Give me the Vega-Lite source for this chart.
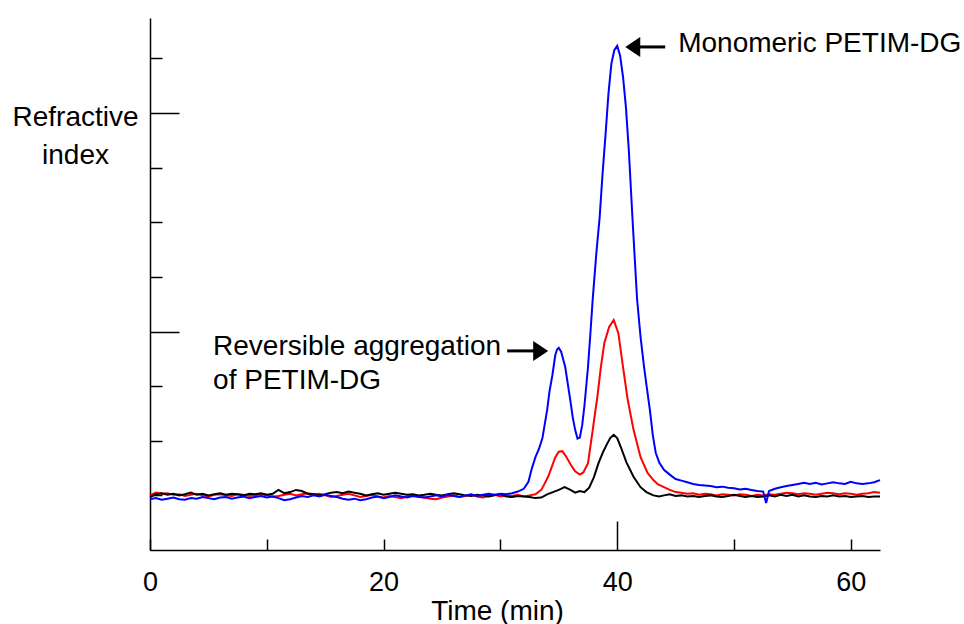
{
  "$schema": "https://vega.github.io/schema/vega-lite/v6.json",
  "width": 730,
  "height": 532,
  "autosize": "none",
  "padding": {"left": 150, "top": 18, "right": 84, "bottom": 74},
  "background": "white",
  "config": {"view": {"stroke": null}, "font": "Liberation Sans", "axis": {"grid": false}},
  "encoding": {
    "x": {
      "field": "t", "type": "quantitative",
      "scale": {"domain": [0, 62.5], "nice": false, "zero": false},
      "axis": {
        "title": "Time (min)",
        "values": [0, 10, 20, 30, 40, 50, 60],
        "labelExpr": "datum.value % 20 === 0 ? datum.label : ''",
        "tickSize": {"condition": {"test": "datum.value === 40", "value": -29}, "value": -11},
        "tickColor": "black", "tickWidth": 1.5,
        "domainColor": "black", "domainWidth": 1.5,
        "labelFont": "Liberation Sans", "labelFontSize": 27, "labelColor": "black",
        "labelPadding": {"condition": {"test": "datum.value === 40", "value": 48}, "value": 30},
        "labelFlush": false, "labelOverlap": false,
        "titleFont": "Liberation Sans", "titleFontSize": 28, "titleFontWeight": "normal", "titleColor": "black",
        "titleX": 347, "titleY": 69, "titleAlign": "center", "titleBaseline": "alphabetic"
      }
    },
    "y": {
      "field": "v", "type": "quantitative",
      "scale": {"domain": [0, 9.74], "nice": false, "zero": false},
      "axis": {
        "title": ["Refractive", "index"],
        "values": [1, 2, 3, 4, 5, 6, 7, 8, 9],
        "labels": false,
        "tickSize": {"condition": {"test": "datum.value % 4 === 0", "value": -29}, "value": -12},
        "tickColor": "black", "tickWidth": 1.5,
        "domainColor": "black", "domainWidth": 1.5,
        "titleFont": "Liberation Sans", "titleFontSize": 28, "titleFontWeight": "normal", "titleColor": "black",
        "titleAngle": 0, "titleX": -75, "titleY": 107, "titleAlign": "center", "titleBaseline": "alphabetic", "titleLineHeight": 38
      }
    }
  },
  "layer": [
    {
      "data": {"values": [
        {"t":0,"v":1.00},{"t":0.5,"v":1.05},{"t":1,"v":1.03},{"t":1.5,"v":1.04},{"t":2,"v":1.01},{"t":2.5,"v":1.02},{"t":3,"v":0.99},{"t":3.5,"v":1.01},{"t":4,"v":1.03},{"t":4.5,"v":1.00},
        {"t":5,"v":0.98},{"t":5.5,"v":1.01},{"t":6,"v":1.02},{"t":6.5,"v":1.00},{"t":7,"v":0.99},{"t":7.5,"v":1.02},{"t":8,"v":1.01},{"t":8.5,"v":0.99},{"t":9,"v":1.00},{"t":9.5,"v":1.02},
        {"t":10,"v":1.00},{"t":10.5,"v":0.98},{"t":11,"v":0.99},{"t":11.5,"v":1.01},{"t":12,"v":1.03},{"t":12.5,"v":1.00},{"t":13,"v":1.02},{"t":13.5,"v":1.04},{"t":14,"v":1.02},{"t":14.5,"v":1.03},
        {"t":15,"v":1.00},{"t":15.5,"v":0.97},{"t":16,"v":0.99},{"t":16.5,"v":1.01},{"t":17,"v":1.03},{"t":17.5,"v":1.00},{"t":18,"v":0.97},{"t":18.5,"v":0.99},{"t":19,"v":1.01},{"t":19.5,"v":0.98},
        {"t":20,"v":0.96},{"t":20.5,"v":0.99},{"t":21,"v":0.97},{"t":21.5,"v":0.95},{"t":22,"v":0.98},{"t":22.5,"v":1.00},{"t":23,"v":0.98},{"t":23.5,"v":0.96},{"t":24,"v":0.94},{"t":24.5,"v":0.93},
        {"t":25,"v":0.96},{"t":25.5,"v":0.98},{"t":26,"v":1.00},{"t":26.5,"v":0.97},{"t":27,"v":0.99},{"t":27.5,"v":1.01},{"t":28,"v":0.98},{"t":28.5,"v":0.96},{"t":29,"v":0.99},{"t":29.5,"v":1.01},
        {"t":30,"v":0.98},{"t":30.5,"v":1.00},{"t":31,"v":0.99},{"t":31.5,"v":1.01},{"t":32,"v":0.98},{"t":32.5,"v":1.00},{"t":33,"v":1.02},{"t":33.5,"v":1.10},{"t":33.8,"v":1.22},{"t":34.1,"v":1.35},
        {"t":34.4,"v":1.52},{"t":34.7,"v":1.70},{"t":35.0,"v":1.80},{"t":35.3,"v":1.81},{"t":35.6,"v":1.72},{"t":36.0,"v":1.57},{"t":36.4,"v":1.44},{"t":36.8,"v":1.38},{"t":37.1,"v":1.42},{"t":37.5,"v":1.59},
        {"t":37.9,"v":2.19},{"t":38.1,"v":2.50},{"t":38.3,"v":2.80},{"t":38.6,"v":3.35},{"t":38.9,"v":3.79},{"t":39.3,"v":4.08},{"t":39.7,"v":4.21},{"t":40.1,"v":3.97},{"t":40.5,"v":3.35},{"t":40.9,"v":2.75},
        {"t":41.4,"v":2.20},{"t":42.0,"v":1.70},{"t":42.6,"v":1.41},{"t":43.1,"v":1.28},{"t":43.5,"v":1.20},{"t":44.0,"v":1.15},{"t":44.5,"v":1.10},{"t":45.0,"v":1.06},{"t":45.5,"v":1.05},{"t":46.0,"v":1.03},
        {"t":46.5,"v":1.04},{"t":47.0,"v":1.01},{"t":47.5,"v":1.03},{"t":48.0,"v":1.02},{"t":48.5,"v":1.00},{"t":49.0,"v":1.02},{"t":49.5,"v":1.01},{"t":50.0,"v":1.00},{"t":50.5,"v":1.02},{"t":51.0,"v":1.01},
        {"t":51.5,"v":0.99},{"t":52.0,"v":1.01},{"t":52.5,"v":1.00},{"t":53.0,"v":1.02},{"t":53.5,"v":1.01},{"t":54.0,"v":1.03},{"t":54.5,"v":1.05},{"t":55.0,"v":1.04},{"t":55.5,"v":1.02},{"t":56.0,"v":1.04},
        {"t":56.5,"v":1.03},{"t":57.0,"v":1.01},{"t":57.5,"v":1.03},{"t":58.0,"v":1.05},{"t":58.5,"v":1.04},{"t":59.0,"v":1.02},{"t":59.5,"v":1.04},{"t":60.0,"v":1.03},{"t":60.5,"v":1.01},{"t":61.0,"v":1.03},
        {"t":61.5,"v":1.04},{"t":62.0,"v":1.06},{"t":62.5,"v":1.05}
      ]},
      "mark": {"type": "line", "color": "#ff0000", "strokeWidth": 2}
    },
    {
      "data": {"values": [
        {"t":0,"v":0.97},{"t":0.5,"v":1.02},{"t":1,"v":1.04},{"t":1.5,"v":1.01},{"t":2,"v":1.03},{"t":2.5,"v":1.00},{"t":3,"v":1.02},{"t":3.5,"v":1.05},{"t":4,"v":1.01},{"t":4.5,"v":1.03},
        {"t":5,"v":1.00},{"t":5.5,"v":1.02},{"t":6,"v":1.04},{"t":6.5,"v":1.01},{"t":7,"v":1.03},{"t":7.5,"v":1.02},{"t":8,"v":1.00},{"t":8.5,"v":1.03},{"t":9,"v":1.02},{"t":9.5,"v":1.04},
        {"t":10,"v":1.01},{"t":10.5,"v":1.03},{"t":11,"v":1.10},{"t":11.5,"v":1.04},{"t":12,"v":1.06},{"t":12.5,"v":1.10},{"t":13,"v":1.08},{"t":13.5,"v":1.03},{"t":14,"v":1.02},{"t":14.5,"v":1.00},
        {"t":15,"v":1.02},{"t":15.5,"v":1.05},{"t":16,"v":1.06},{"t":16.5,"v":1.04},{"t":17,"v":1.07},{"t":17.5,"v":1.05},{"t":18,"v":1.03},{"t":18.5,"v":1.00},{"t":19,"v":1.02},{"t":19.5,"v":1.04},
        {"t":20,"v":1.01},{"t":20.5,"v":1.03},{"t":21,"v":1.05},{"t":21.5,"v":1.03},{"t":22,"v":1.01},{"t":22.5,"v":1.02},{"t":23,"v":1.00},{"t":23.5,"v":1.01},{"t":24,"v":1.03},{"t":24.5,"v":1.01},
        {"t":25,"v":1.00},{"t":25.5,"v":1.02},{"t":26,"v":1.04},{"t":26.5,"v":1.02},{"t":27,"v":1.00},{"t":27.5,"v":0.99},{"t":28,"v":1.01},{"t":28.5,"v":1.00},{"t":29,"v":0.98},{"t":29.5,"v":1.00},
        {"t":30,"v":1.02},{"t":30.5,"v":0.98},{"t":31,"v":0.97},{"t":31.5,"v":0.99},{"t":32,"v":0.98},{"t":32.5,"v":0.97},{"t":33,"v":0.95},{"t":33.5,"v":0.96},{"t":34,"v":1.02},{"t":34.5,"v":1.06},
        {"t":35.0,"v":1.10},{"t":35.5,"v":1.15},{"t":36.0,"v":1.10},{"t":36.4,"v":1.05},{"t":36.8,"v":1.08},{"t":37.2,"v":1.06},{"t":37.6,"v":1.14},{"t":38.0,"v":1.33},{"t":38.4,"v":1.59},{"t":38.8,"v":1.80},
        {"t":39.1,"v":1.93},{"t":39.4,"v":2.05},{"t":39.7,"v":2.11},{"t":40.0,"v":2.05},{"t":40.3,"v":1.89},{"t":40.8,"v":1.60},{"t":41.4,"v":1.34},{"t":42.0,"v":1.15},{"t":42.5,"v":1.06},{"t":43.1,"v":1.00},
        {"t":43.6,"v":0.98},{"t":44.0,"v":1.00},{"t":44.5,"v":1.02},{"t":45.0,"v":0.99},{"t":45.5,"v":1.00},{"t":46.0,"v":0.98},{"t":46.5,"v":0.99},{"t":47.0,"v":0.97},{"t":47.5,"v":0.99},{"t":48.0,"v":1.00},
        {"t":48.5,"v":0.98},{"t":49.0,"v":0.97},{"t":49.5,"v":0.99},{"t":50.0,"v":1.01},{"t":50.5,"v":0.99},{"t":51.0,"v":0.97},{"t":51.5,"v":0.99},{"t":52.0,"v":0.97},{"t":52.5,"v":0.98},{"t":53.0,"v":1.00},
        {"t":53.5,"v":0.98},{"t":54.0,"v":1.01},{"t":54.5,"v":0.99},{"t":55.0,"v":1.01},{"t":55.5,"v":0.98},{"t":56.0,"v":1.00},{"t":56.5,"v":0.98},{"t":57.0,"v":0.97},{"t":57.5,"v":0.99},{"t":58.0,"v":0.98},
        {"t":58.5,"v":1.00},{"t":59.0,"v":0.98},{"t":59.5,"v":0.99},{"t":60.0,"v":0.97},{"t":60.5,"v":0.98},{"t":61.0,"v":0.99},{"t":61.5,"v":0.97},{"t":62.0,"v":0.98},{"t":62.5,"v":0.98}
      ]},
      "mark": {"type": "line", "color": "#000000", "strokeWidth": 2}
    },
    {
      "data": {"values": [
        {"t":0,"v":0.93},{"t":0.5,"v":0.95},{"t":1,"v":0.92},{"t":1.5,"v":0.94},{"t":2,"v":0.96},{"t":2.5,"v":0.93},{"t":3,"v":0.92},{"t":3.5,"v":0.95},{"t":4,"v":0.94},{"t":4.5,"v":0.97},
        {"t":5,"v":0.95},{"t":5.5,"v":0.93},{"t":6,"v":0.96},{"t":6.5,"v":0.97},{"t":7,"v":0.94},{"t":7.5,"v":0.96},{"t":8,"v":0.98},{"t":8.5,"v":0.95},{"t":9,"v":0.97},{"t":9.5,"v":0.99},
        {"t":10,"v":0.96},{"t":10.5,"v":0.98},{"t":11,"v":0.95},{"t":11.5,"v":0.91},{"t":12,"v":0.93},{"t":12.5,"v":0.96},{"t":13,"v":0.99},{"t":13.5,"v":0.97},{"t":14,"v":1.00},{"t":14.5,"v":0.98},
        {"t":15,"v":1.01},{"t":15.5,"v":0.99},{"t":16,"v":0.97},{"t":16.5,"v":0.94},{"t":17,"v":0.92},{"t":17.5,"v":0.94},{"t":18,"v":0.91},{"t":18.5,"v":0.93},{"t":19,"v":0.96},{"t":19.5,"v":0.98},
        {"t":20,"v":0.95},{"t":20.5,"v":0.97},{"t":21,"v":1.00},{"t":21.5,"v":0.98},{"t":22,"v":0.96},{"t":22.5,"v":0.99},{"t":23,"v":0.97},{"t":23.5,"v":0.96},{"t":24,"v":0.98},{"t":24.5,"v":1.00},
        {"t":25,"v":0.98},{"t":25.5,"v":1.01},{"t":26,"v":0.99},{"t":26.5,"v":0.97},{"t":27,"v":1.00},{"t":27.5,"v":1.02},{"t":28,"v":0.99},{"t":28.5,"v":1.01},{"t":29,"v":1.03},{"t":29.5,"v":1.01},
        {"t":30,"v":1.03},{"t":30.5,"v":1.02},{"t":31,"v":1.04},{"t":31.5,"v":1.07},{"t":32,"v":1.12},{"t":32.4,"v":1.25},{"t":32.7,"v":1.50},{"t":33.0,"v":1.70},{"t":33.3,"v":1.85},{"t":33.6,"v":2.05},
        {"t":34.0,"v":2.56},{"t":34.2,"v":2.90},{"t":34.45,"v":3.20},{"t":34.7,"v":3.57},{"t":34.85,"v":3.67},{"t":35.0,"v":3.70},{"t":35.2,"v":3.63},{"t":35.55,"v":3.35},{"t":35.8,"v":3.00},{"t":36.0,"v":2.72},
        {"t":36.2,"v":2.42},{"t":36.4,"v":2.20},{"t":36.6,"v":2.04},{"t":36.8,"v":2.06},{"t":37.0,"v":2.28},{"t":37.2,"v":2.65},{"t":37.5,"v":3.35},{"t":37.7,"v":3.95},{"t":37.9,"v":4.58},{"t":38.2,"v":5.40},
        {"t":38.5,"v":6.10},{"t":38.75,"v":6.90},{"t":39.0,"v":7.60},{"t":39.25,"v":8.35},{"t":39.5,"v":8.90},{"t":39.75,"v":9.15},{"t":40.0,"v":9.23},{"t":40.25,"v":9.05},{"t":40.5,"v":8.66},{"t":40.75,"v":8.10},
        {"t":41.0,"v":7.30},{"t":41.3,"v":6.10},{"t":41.5,"v":5.35},{"t":41.7,"v":4.60},{"t":42.0,"v":3.90},{"t":42.3,"v":3.35},{"t":42.55,"v":2.95},{"t":42.8,"v":2.56},{"t":43.05,"v":2.10},{"t":43.3,"v":1.78},
        {"t":43.6,"v":1.60},{"t":44.0,"v":1.47},{"t":44.5,"v":1.38},{"t":45.0,"v":1.30},{"t":45.5,"v":1.27},{"t":46.0,"v":1.24},{"t":46.5,"v":1.21},{"t":47.0,"v":1.19},{"t":47.5,"v":1.18},{"t":48.0,"v":1.17},
        {"t":48.5,"v":1.15},{"t":49.0,"v":1.16},{"t":49.5,"v":1.14},{"t":50.0,"v":1.13},{"t":50.5,"v":1.11},{"t":51.0,"v":1.12},{"t":51.5,"v":1.10},{"t":52.0,"v":1.08},{"t":52.5,"v":1.07},{"t":52.75,"v":0.86},
        {"t":53.0,"v":1.08},{"t":53.5,"v":1.12},{"t":54.0,"v":1.15},{"t":54.5,"v":1.17},{"t":55.0,"v":1.19},{"t":55.5,"v":1.21},{"t":56.0,"v":1.23},{"t":56.5,"v":1.21},{"t":57.0,"v":1.23},{"t":57.5,"v":1.20},
        {"t":58.0,"v":1.22},{"t":58.5,"v":1.24},{"t":59.0,"v":1.22},{"t":59.5,"v":1.21},{"t":60.0,"v":1.25},{"t":60.5,"v":1.22},{"t":61.0,"v":1.21},{"t":61.5,"v":1.22},{"t":62.0,"v":1.24},{"t":62.5,"v":1.28}
      ]},
      "mark": {"type": "line", "color": "#0000ff", "strokeWidth": 2}
    },
    {
      "data": {"values": [
        {"t": 30.58, "t2": 33.2, "v": 3.645},
        {"t": 41.6, "t2": 44.11, "v": 9.21}
      ]},
      "mark": {"type": "rule", "color": "black", "strokeWidth": 3},
      "encoding": {"x2": {"field": "t2"}}
    },
    {
      "data": {"values": [{"t": 34.09, "v": 3.645}]},
      "mark": {"type": "point", "shape": "M-2,-1.33L0,0L-2,1.33Z", "size": 225, "filled": true, "color": "black", "opacity": 1}
    },
    {
      "data": {"values": [{"t": 40.69, "v": 9.21}]},
      "mark": {"type": "point", "shape": "M2,-1.33L0,0L2,1.33Z", "size": 225, "filled": true, "color": "black", "opacity": 1}
    },
    {
      "data": {"values": [
        {"t": 5.40, "v": 3.571, "label": "Reversible aggregation"},
        {"t": 5.40, "v": 2.949, "label": "of PETIM-DG"},
        {"t": 45.22, "v": 9.121, "label": "Monomeric PETIM-DG"}
      ]},
      "mark": {"type": "text", "align": "left", "baseline": "alphabetic", "font": "Liberation Sans", "fontSize": 28, "color": "black"},
      "encoding": {"text": {"field": "label"}}
    }
  ]
}
